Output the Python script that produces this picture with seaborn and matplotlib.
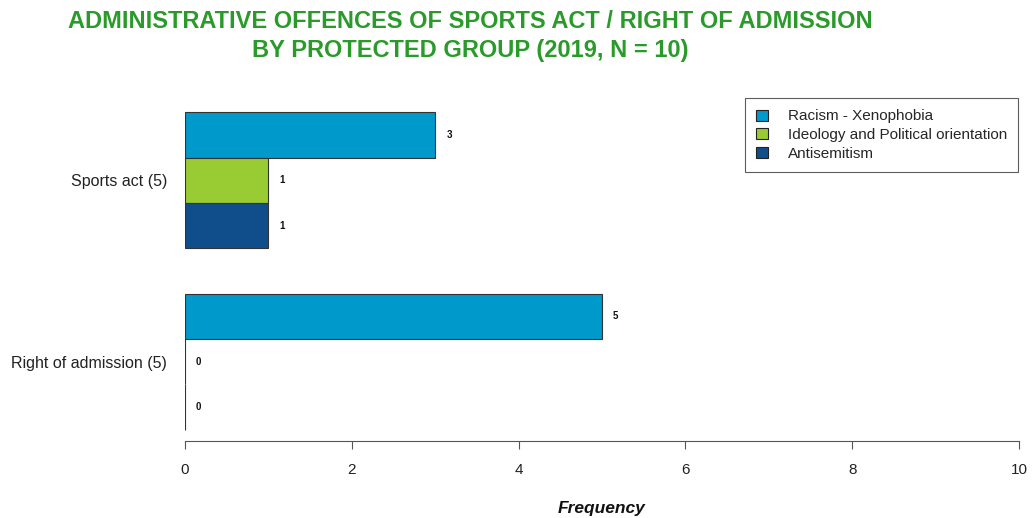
import matplotlib
matplotlib.use("Agg")
import matplotlib.pyplot as plt
import seaborn as sns
import pandas as pd
from matplotlib.patches import Patch

# Data
categories = ["Sports act (5)", "Right of admission (5)"]
groups = ["Racism - Xenophobia", "Ideology and Political orientation", "Antisemitism"]
sports_act = [3, 1, 1]
right_of_admission = [5, 0, 0]
colors = ["#0099CC", "#99CC33", "#104E8B"]
x_ticks = [0, 2, 4, 6, 8, 10]

rows = []
for cat, vals in zip(categories, [sports_act, right_of_admission]):
    for g, v in zip(groups, vals):
        rows.append({"category": cat, "group": g, "value": v})
df = pd.DataFrame(rows)

sns.set_style("white")
plt.rcParams["font.family"] = ["Liberation Sans", "DejaVu Sans"]

fig = plt.figure(figsize=(10.32, 5.18), dpi=100)
ax = fig.add_axes([185 / 1032, 77 / 518, 834 / 1032, 340 / 518])

sns.barplot(data=df, y="category", x="value", hue="group", order=categories,
            hue_order=groups, palette=colors, saturation=1, orient="h", width=0.75,
            edgecolor="#333333", linewidth=0.8, ax=ax, legend=False)

# value labels next to each bar
for container in ax.containers:
    for patch in container:
        w = patch.get_width()
        yc = patch.get_y() + patch.get_height() / 2
        ax.annotate(f"{int(round(w))}", (w, yc), xytext=(8, 0),
                    textcoords="offset points", ha="left", va="center",
                    fontsize=7, fontweight="bold", color="#111111")

ax.set_xlim(0, 10)
ax.set_ylim(1.438, -0.438)
ax.set_xticks(x_ticks)
ax.set_xticklabels([str(t) for t in x_ticks], fontsize=11, color="#222222")
ax.tick_params(axis="x", bottom=True, direction="out", length=6, width=0.8,
               color="#555555", pad=10)
ax.tick_params(axis="y", left=False, length=0, pad=13, labelsize=11.5)
for lbl in ax.get_yticklabels():
    lbl.set_color("#222222")
ax.set_ylabel("")
ax.set_xlabel("Frequency", fontsize=12.5, fontweight="bold", fontstyle="italic",
              labelpad=17, color="#111111")

for side in ["top", "right", "left"]:
    ax.spines[side].set_visible(False)
ax.spines["bottom"].set_color("#555555")
ax.spines["bottom"].set_linewidth(0.8)

handles = [Patch(facecolor=c, edgecolor="#222222", linewidth=0.8) for c in colors]
leg = ax.legend(handles, groups, loc="upper left", bbox_to_anchor=(745 / 1032, 1 - 98 / 518),
                bbox_transform=fig.transFigure, frameon=True, fancybox=False,
                fontsize=11, handlelength=0.75, handleheight=0.75, handletextpad=1.3,
                labelspacing=0.3, borderpad=0.75, borderaxespad=0)
leg.get_frame().set_edgecolor("#333333")
leg.get_frame().set_linewidth(0.8)

fig.text(470 / 1032, 1 - 22 / 518, "ADMINISTRATIVE OFFENCES OF SPORTS ACT / RIGHT OF ADMISSION",
         ha="center", va="center", fontsize=17, fontweight="bold", color="#2A9A2A")
fig.text(470 / 1032, 1 - 50 / 518, "BY PROTECTED GROUP (2019, N = 10)",
         ha="center", va="center", fontsize=17, fontweight="bold", color="#2A9A2A")

fig.savefig("out.png", dpi=100)
